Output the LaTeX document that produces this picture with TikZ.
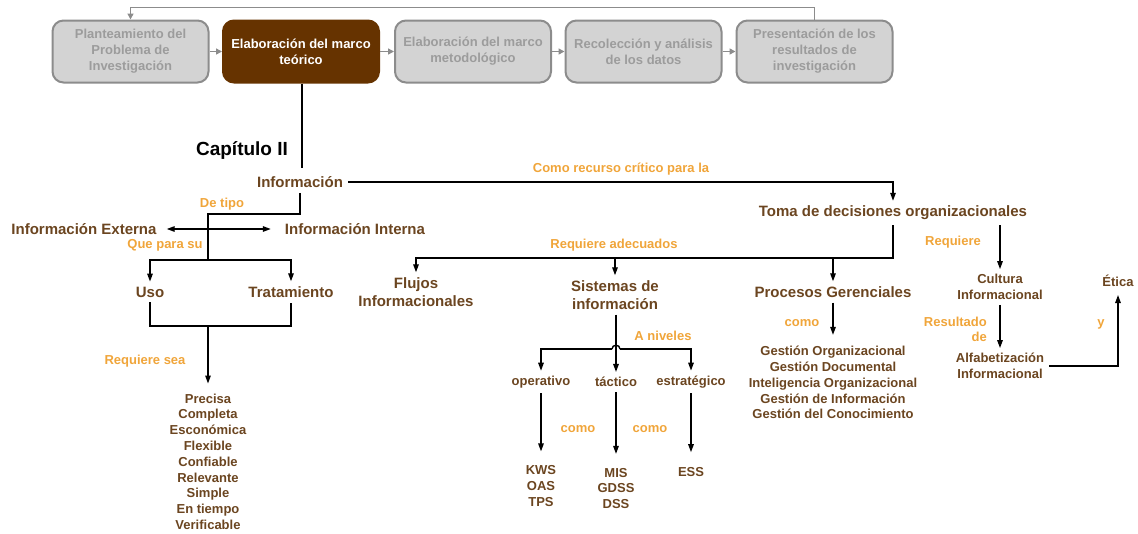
\documentclass[tikz,border=0pt]{standalone}
\usepackage{fontspec}
\setmainfont{Liberation Sans}
\usetikzlibrary{arrows.meta,calc}
\definecolor{phasefill}{HTML}{D3D3D3}
\definecolor{phaseline}{HTML}{8C8C8C}
\definecolor{phasetext}{HTML}{9C9C9C}
\definecolor{activefill}{HTML}{663300}
\definecolor{conceptbrown}{HTML}{6B4520}
\definecolor{linkorange}{HTML}{F0A53A}
\begin{document}
\begin{tikzpicture}[x=1pt,y=-1pt,
  phase/.style={draw=phaseline, line width=2pt, fill=phasefill, rounded corners=11pt,
    minimum width=156pt, minimum height=62pt, align=center, text=phasetext,
    font=\fontsize{13}{16}\selectfont\bfseries, inner sep=2pt},
  active/.style={phase, draw=activefill, fill=activefill, text=white},
  concept/.style={text=conceptbrown, font=\fontsize{15}{18}\selectfont\bfseries,
    align=center, inner sep=5pt},
  small/.style={text=conceptbrown, font=\fontsize{13}{15.8}\selectfont\bfseries,
    align=center, inner sep=5pt},
  linklabel/.style={text=linkorange, font=\fontsize{13}{15}\selectfont\bfseries, inner sep=1pt},
  conn/.style={line width=1.4pt, draw=black},
  arr/.style={conn, -{Triangle[width=5.5pt,length=8pt]}},
  phasearr/.style={line width=1.6pt, draw=phaseline, -{Triangle[width=6pt,length=6pt]}}
]
\useasboundingbox (0,0) rectangle (1138,533);

% research phases
\node[phase]  (p1) at (130.5,51.5) {Planteamiento del\\Problema de\\Investigación};
\node[active] (p2) at (301,51.5) {Elaboración del marco\\teórico};
\node[phase]  (p3) at (473,51.5) {Elaboración del marco\\metodológico};
\node[phase]  (p4) at (643.5,51.5) {Recolección y análisis\\de los datos};
\node[phase]  (p5) at (814.5,51.5) {Presentación de los\\resultados de\\investigación};
\draw[phasearr] (p1) -- (p2);
\draw[phasearr] (p2) -- (p3);
\draw[phasearr] (p3) -- (p4);
\draw[phasearr] (p4) -- (p5);
\draw[phasearr] (p5.north) -- ++(0,-12) -| (p1.north);

% chapter
\node[font=\fontsize{19}{22}\selectfont\bfseries] (cap) at (242,151) {Capítulo II};
\coordinate (capend) at (302,168);
\draw[line width=2.8pt] (p2.south -| capend) -- (capend);

% information branch
\node[concept] (info) at (300,182) {Información};
\node[concept] (toma) at (893,213) {Toma de decisiones organizacionales};
\draw[arr] (info.east) -| (toma.north);
\node[linklabel] (l1) at (621,169) {Como recurso crítico para la};

\node[concept, inner xsep=10pt] (ext) at (84,229) {Información Externa};
\node[concept, inner xsep=14pt] (int) at (355,229) {Información Interna};
\draw[conn, {Triangle[width=5.5pt,length=8pt]}-{Triangle[width=5.5pt,length=8pt]}] (ext.east) -- (int.west);

\coordinate (j1) at (208,214);
\coordinate (j2) at (208,260);
\draw[conn] (info.south) |- (j1) -- (j2);
\node[linklabel] (l2) at (222,204) {De tipo};
\node[linklabel] (l3) at (165,245) {Que para su};

\node[concept] (uso) at (150,292) {Uso};
\node[concept] (trat) at (291,292) {Tratamiento};
\draw[arr] (j2) -| (uso.north);
\draw[arr] (j2) -| (trat.north);

\coordinate (j3) at (208,326);
\draw[conn] (uso.south) |- (j3) -| (trat.south);
\node[small, anchor=north, inner ysep=10pt] (qual) at (208,383.5)
  {Precisa\\Completa\\Esconómica\\Flexible\\Confiable\\Relevante\\Simple\\En tiempo\\Verificable};
\draw[arr] (j3) -- (qual.north);
\node[linklabel] (l4) at (145,361) {Requiere sea};

% decision-making branch
\coordinate (j4) at (893,258);
\node[concept] (flujos) at (416,292) {Flujos\\Informacionales};
\node[concept] (sis) at (615,295) {Sistemas de\\información};
\node[concept] (proc) at (833,292) {Procesos Gerenciales};
\draw[arr] (toma.south) -- (j4) -| (flujos.north);
\draw[arr] (sis.north |- j4) -- (sis.north);
\draw[arr] (proc.north |- j4) -- (proc.north);
\node[linklabel] (l5) at (614,245) {Requiere adecuados};

% information system levels
\node[small] (oper) at (541,382) {operativo};
\node[small] (tact) at (616,382) {táctico};
\node[small] (estr) at (691,382) {estratégico};
\coordinate (h1) at (612,349);
\coordinate (h2) at (620,349);
\draw[arr] (sis.south -| tact.north) -- (tact.north);
\draw[arr] (h1) -| (oper.north);
\draw[arr] (h2) -| (estr.north);
\draw[conn] (h1) .. controls (612,344) and (620,344) .. (h2);
\node[linklabel] (l6) at (663,336) {A niveles};

\node[small] (kws) at (541,486) {KWS\\OAS\\TPS};
\node[small] (mis) at (616,488.5) {MIS\\GDSS\\DSS};
\node[small] (ess) at (691,472) {ESS};
\draw[arr, shorten >=9pt] (oper.south) -- (kws.north);
\draw[arr, shorten >=9pt] (tact.south) -- (mis.north);
\draw[arr, shorten >=10pt] (estr.south) -- (ess.north);
\node[linklabel] (l7) at (578,429) {como};
\node[linklabel] (l8) at (650,429) {como};

% management processes
\node[small] (gest) at (833,382.5)
  {Gestión Organizacional\\Gestión Documental\\Inteligencia Organizacional\\Gestión de Información\\Gestión del Conocimiento};
\draw[arr, shorten >=6pt] (proc.south) -- (gest.north);
\node[linklabel] (l9) at (802,323) {como};

% information culture
\node[small] (cult) at (1000,287) {Cultura\\Informacional};
\node[small] (alfa) at (1000,366) {Alfabetización\\Informacional};
\node[small, inner sep=8pt] (etica) at (1118,281) {Ética};
\draw[arr] (toma.south -| cult.north) -- (cult.north);
\draw[arr] (cult.south) -- (alfa.north);
\draw[arr] (alfa.east) -| (etica.south);
\node[linklabel] (l10) at (953,242) {Requiere};
\node[linklabel, align=right, anchor=east] (l11) at (988,329.5) {Resultado\\de};
\node[linklabel] (l12) at (1101,324) {y};
\end{tikzpicture}
\end{document}
